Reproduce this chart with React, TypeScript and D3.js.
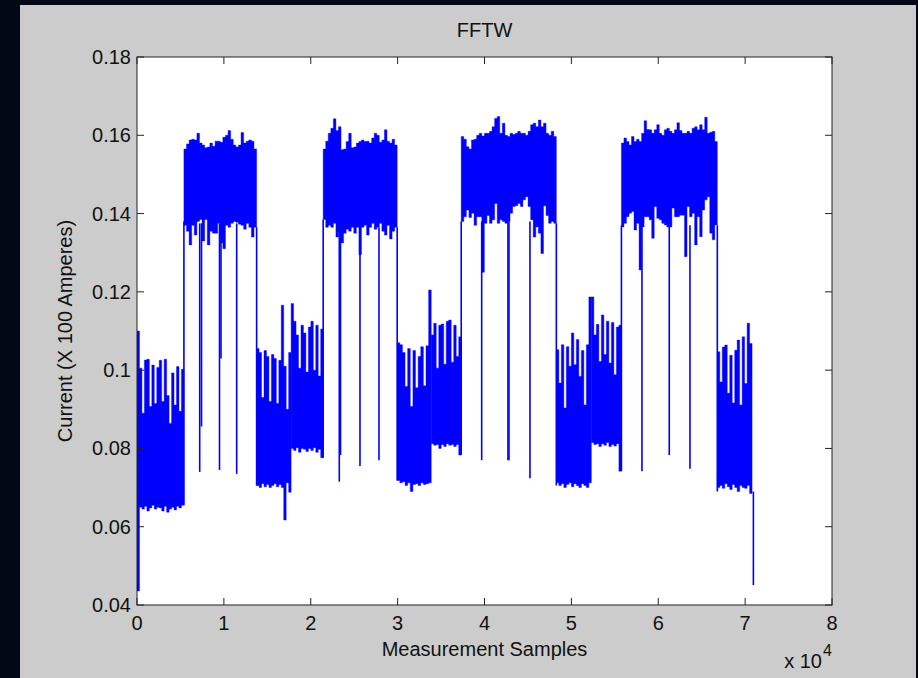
import React from "react";
import * as d3 from "d3";

// axis ticks
const X_TICKS = [0, 1, 2, 3, 4, 5, 6, 7, 8];
const Y_TICKS = [0.04, 0.06, 0.08, 0.1, 0.12, 0.14, 0.16, 0.18];
const Y_TICK_LABELS = ["0.04", "0.06", "0.08", "0.1", "0.12", "0.14", "0.16", "0.18"];

// envelope of the trace, block by block: sample range, then max / min per bin
const L1_RANGE = [0, 5400];
const L1_TOP = [0.11, 0.1005, 0.089, 0.1026, 0.1028, 0.0907, 0.1013, 0.0915, 0.1007, 0.1025, 0.092, 0.1028, 0.0935, 0.0864, 0.0993, 0.0911, 0.1009, 0.0895, 0.1002];
const L1_BOTTOM = [0.0436, 0.065, 0.0645, 0.0652, 0.064, 0.0648, 0.0655, 0.0645, 0.065, 0.0648, 0.064, 0.0652, 0.0637, 0.0645, 0.065, 0.0643, 0.0652, 0.0648, 0.0655];

const H1_RANGE = [5400, 13770];
const H1_TOP = [0.1565, 0.1578, 0.1588, 0.159, 0.1588, 0.1605, 0.158, 0.1575, 0.1568, 0.157, 0.158, 0.1572, 0.1585, 0.1585, 0.1582, 0.1595, 0.16, 0.1612, 0.159, 0.1575, 0.157, 0.1575, 0.1607, 0.158, 0.1585, 0.1588, 0.1585, 0.1565];
const H1_BOTTOM = [0.137, 0.1355, 0.132, 0.137, 0.1345, 0.138, 0.1385, 0.133, 0.1385, 0.132, 0.1355, 0.135, 0.135, 0.1375, 0.1325, 0.131, 0.137, 0.1365, 0.1375, 0.138, 0.1378, 0.1373, 0.137, 0.136, 0.1375, 0.1365, 0.134, 0.1365];

const L2A_RANGE = [13770, 17740];
const L2A_TOP = [0.1055, 0.1045, 0.093, 0.105, 0.1035, 0.092, 0.104, 0.103, 0.0915, 0.1025, 0.1166, 0.101, 0.09, 0.1045];
const L2A_BOTTOM = [0.0705, 0.07, 0.071, 0.0702, 0.0708, 0.07, 0.0705, 0.071, 0.0702, 0.0708, 0.07, 0.0617, 0.0712, 0.0688];

const L2B_RANGE = [17740, 21430];
const L2B_TOP = [0.117, 0.1125, 0.109, 0.1005, 0.1115, 0.1095, 0.0995, 0.111, 0.1125, 0.1, 0.1115, 0.0985, 0.1105];
const L2B_BOTTOM = [0.08, 0.0795, 0.0802, 0.079, 0.08, 0.0798, 0.0792, 0.08, 0.0795, 0.0802, 0.079, 0.0798, 0.0776];

const H2_RANGE = [21430, 29950];
const H2_TOP = [0.1565, 0.1585, 0.1605, 0.1618, 0.1642, 0.1612, 0.1622, 0.1563, 0.1565, 0.1584, 0.1605, 0.1568, 0.157, 0.158, 0.1584, 0.1588, 0.1584, 0.1585, 0.158, 0.1593, 0.1605, 0.16, 0.1582, 0.1588, 0.1614, 0.1585, 0.158, 0.159, 0.1575];
const H2_BOTTOM = [0.1385, 0.1365, 0.137, 0.1365, 0.1375, 0.134, 0.1355, 0.1325, 0.135, 0.136, 0.1355, 0.1365, 0.135, 0.1365, 0.1295, 0.1365, 0.137, 0.1345, 0.1365, 0.1375, 0.136, 0.1365, 0.1375, 0.1355, 0.1345, 0.137, 0.1335, 0.1355, 0.1365];

const L3A_RANGE = [29950, 33870];
const L3A_TOP = [0.107, 0.1065, 0.1045, 0.0958, 0.1055, 0.0907, 0.105, 0.0955, 0.1035, 0.106, 0.096, 0.1062, 0.1205];
const L3A_BOTTOM = [0.0718, 0.0712, 0.0715, 0.0705, 0.0712, 0.069, 0.0708, 0.071, 0.0705, 0.0712, 0.0708, 0.071, 0.0712];

const L3B_RANGE = [33870, 37320];
const L3B_TOP = [0.109, 0.112, 0.1005, 0.1115, 0.1118, 0.1015, 0.1125, 0.1128, 0.102, 0.1115, 0.1035, 0.1085];
const L3B_BOTTOM = [0.0812, 0.0808, 0.081, 0.08, 0.081, 0.0805, 0.0812, 0.0808, 0.081, 0.0805, 0.081, 0.0783];

const H3_RANGE = [37320, 48270];
const H3_TOP = [0.1597, 0.159, 0.1571, 0.1565, 0.1588, 0.159, 0.16, 0.1605, 0.1598, 0.1605, 0.1605, 0.161, 0.1622, 0.1643, 0.1648, 0.1605, 0.1631, 0.16, 0.1597, 0.1605, 0.1602, 0.1605, 0.161, 0.1605, 0.1605, 0.16, 0.161, 0.1627, 0.1631, 0.1622, 0.1639, 0.1622, 0.1631, 0.1605, 0.16, 0.161, 0.1597];
const H3_BOTTOM = [0.138, 0.1392, 0.1409, 0.139, 0.1401, 0.137, 0.1392, 0.1392, 0.125, 0.1375, 0.1395, 0.1375, 0.1384, 0.1426, 0.1375, 0.1384, 0.138, 0.1375, 0.138, 0.1401, 0.1418, 0.142, 0.1426, 0.1418, 0.1435, 0.1443, 0.1418, 0.1384, 0.134, 0.1366, 0.135, 0.1298, 0.142, 0.1395, 0.1375, 0.138, 0.1375];

const L4A_RANGE = [48270, 52300];
const L4A_TOP = [0.1052, 0.0967, 0.1065, 0.0903, 0.106, 0.101, 0.1095, 0.1014, 0.1078, 0.0984, 0.105, 0.0911, 0.1065, 0.1187];
const L4A_BOTTOM = [0.0712, 0.0705, 0.071, 0.07, 0.0708, 0.0712, 0.0702, 0.071, 0.0705, 0.07, 0.071, 0.0705, 0.07, 0.0712];

const L4B_RANGE = [52300, 55760];
const L4B_TOP = [0.1187, 0.109, 0.1117, 0.1022, 0.1141, 0.104, 0.1125, 0.1018, 0.1122, 0.0988, 0.111, 0.1115];
const L4B_BOTTOM = [0.0815, 0.081, 0.0812, 0.0805, 0.0812, 0.0808, 0.0815, 0.0805, 0.081, 0.0806, 0.0812, 0.0742];

const H4_RANGE = [55760, 66800];
const H4_TOP = [0.158, 0.1593, 0.1584, 0.1575, 0.1597, 0.1584, 0.159, 0.1584, 0.1605, 0.1637, 0.1615, 0.1614, 0.1605, 0.1614, 0.1627, 0.1605, 0.16, 0.1614, 0.1618, 0.161, 0.1605, 0.1614, 0.1632, 0.1612, 0.1605, 0.1605, 0.161, 0.1605, 0.1618, 0.1622, 0.1614, 0.1627, 0.1614, 0.1646, 0.1605, 0.1608, 0.161, 0.1584];
const H4_BOTTOM = [0.1366, 0.1375, 0.1392, 0.1401, 0.1405, 0.1358, 0.1375, 0.1256, 0.1366, 0.1392, 0.1392, 0.1384, 0.1337, 0.1418, 0.1388, 0.1384, 0.1375, 0.1371, 0.1366, 0.1366, 0.1414, 0.1392, 0.1392, 0.1396, 0.1396, 0.129, 0.1418, 0.1392, 0.1401, 0.132, 0.1392, 0.1341, 0.1409, 0.1435, 0.1443, 0.135, 0.1333, 0.1371];

const L5_RANGE = [66800, 70800];
const L5_TOP = [0.1047, 0.097, 0.1059, 0.1064, 0.0941, 0.1038, 0.0916, 0.1051, 0.1077, 0.0911, 0.1085, 0.0966, 0.112, 0.1068];
const L5_BOTTOM = [0.07, 0.0705, 0.0698, 0.071, 0.0702, 0.0695, 0.0708, 0.07, 0.069, 0.0705, 0.07, 0.0698, 0.0705, 0.0685];

// single samples that jump far out of the band: [sample, low, high]
const SPIKES = [
  [5400, 0.0655, 0.138],
  [7217, 0.074, 0.1375],
  [7424, 0.0856, 0.1375],
  [9496, 0.0745, 0.1375],
  [9668, 0.103, 0.1375],
  [11475, 0.0735, 0.1375],
  [13770, 0.0705, 0.1365],
  [21430, 0.0776, 0.1385],
  [23285, 0.0715, 0.1365],
  [23423, 0.0783, 0.1365],
  [25667, 0.0755, 0.1365],
  [27854, 0.077, 0.1365],
  [29950, 0.0718, 0.1365],
  [37320, 0.0783, 0.138],
  [39675, 0.077, 0.138],
  [42702, 0.077, 0.138],
  [42817, 0.077, 0.138],
  [45234, 0.0724, 0.138],
  [48270, 0.0705, 0.1375],
  [55760, 0.0742, 0.137],
  [58125, 0.0742, 0.137],
  [61267, 0.0783, 0.137],
  [63650, 0.0748, 0.137],
  [66800, 0.069, 0.137],
  [70950, 0.0451, 0.069],
];

const BLOCKS = [
  { range: L1_RANGE, top: L1_TOP, bottom: L1_BOTTOM },
  { range: H1_RANGE, top: H1_TOP, bottom: H1_BOTTOM },
  { range: L2A_RANGE, top: L2A_TOP, bottom: L2A_BOTTOM },
  { range: L2B_RANGE, top: L2B_TOP, bottom: L2B_BOTTOM },
  { range: H2_RANGE, top: H2_TOP, bottom: H2_BOTTOM },
  { range: L3A_RANGE, top: L3A_TOP, bottom: L3A_BOTTOM },
  { range: L3B_RANGE, top: L3B_TOP, bottom: L3B_BOTTOM },
  { range: H3_RANGE, top: H3_TOP, bottom: H3_BOTTOM },
  { range: L4A_RANGE, top: L4A_TOP, bottom: L4A_BOTTOM },
  { range: L4B_RANGE, top: L4B_TOP, bottom: L4B_BOTTOM },
  { range: H4_RANGE, top: H4_TOP, bottom: H4_BOTTOM },
  { range: L5_RANGE, top: L5_TOP, bottom: L5_BOTTOM },
];

const BLUE = "#0000ff";
const FONT = "'Liberation Sans', Arial, Helvetica, sans-serif";

export default function App() {
  const width = 918;
  const height = 678;
  const left = 137;
  const right = 832;
  const top = 57;
  const bottom = 605;
  const tick = 7;

  const x = d3.scaleLinear().domain([0, 80000]).range([left, right]);
  const y = d3.scaleLinear().domain([0.04, 0.18]).range([bottom, top]);

  const blockPath = (b) => {
    const [s0, s1] = b.range;
    const n = b.top.length;
    const step = (s1 - s0) / n;
    const p = d3.path();
    b.top.forEach((v, i) => {
      const xa = x(s0 + i * step);
      const xb = x(s0 + (i + 1) * step);
      p.moveTo(xa, y(v));
      p.lineTo(xb, y(v));
      p.lineTo(xb, y(b.bottom[i]));
      p.lineTo(xa, y(b.bottom[i]));
      p.closePath();
    });
    return p.toString();
  };

  return (
    <div
      style={{
        position: "absolute",
        left: 0,
        top: 0,
        width,
        height,
        background: "#030817",
      }}
    >
      <svg width={width} height={height} style={{ display: "block" }}>
        <rect x={20} y={5} width={896} height={673} fill="#cccccc" />
        <rect x={left} y={top} width={right - left} height={bottom - top} fill="#ffffff" />

        <defs>
          <clipPath id="plot">
            <rect x={left} y={top} width={right - left} height={bottom - top} />
          </clipPath>
        </defs>

        <g clipPath="url(#plot)">
          {BLOCKS.map((b, i) => (
            <path key={i} d={blockPath(b)} fill={BLUE} stroke={BLUE} strokeWidth={0.4} />
          ))}
          {SPIKES.map(([s, lo, hi], i) => (
            <line
              key={i}
              x1={x(s)}
              x2={x(s)}
              y1={y(lo)}
              y2={y(hi)}
              stroke={BLUE}
              strokeWidth={1.6}
            />
          ))}
        </g>

        {/* axes box with inward ticks */}
        <g stroke="#222" strokeWidth={1} fill="none">
          <rect x={left} y={top} width={right - left} height={bottom - top} />
          {X_TICKS.map((t) => (
            <g key={t}>
              <line x1={x(t * 10000)} x2={x(t * 10000)} y1={bottom} y2={bottom - tick} />
              <line x1={x(t * 10000)} x2={x(t * 10000)} y1={top} y2={top + tick} />
            </g>
          ))}
          {Y_TICKS.map((t) => (
            <g key={t}>
              <line x1={left} x2={left + tick} y1={y(t)} y2={y(t)} />
              <line x1={right} x2={right - tick} y1={y(t)} y2={y(t)} />
            </g>
          ))}
        </g>

        <g fontFamily={FONT} fontSize={20} fill="#111">
          {X_TICKS.map((t) => (
            <text key={t} x={x(t * 10000)} y={630} textAnchor="middle">
              {t}
            </text>
          ))}
          {Y_TICKS.map((t, i) => (
            <text key={t} x={left - 6} y={y(t) + 7} textAnchor="end">
              {Y_TICK_LABELS[i]}
            </text>
          ))}
          <text x={(left + right) / 2} y={37} textAnchor="middle">
            FFTW
          </text>
          <text x={(left + right) / 2} y={656} textAnchor="middle">
            Measurement Samples
          </text>
          <text
            transform={`translate(72,${(top + bottom) / 2}) rotate(-90)`}
            textAnchor="middle"
          >
            Current (X 100 Amperes)
          </text>
          <text x={822} y={668} textAnchor="end">
            x 10
          </text>
          <text x={832} y={656} textAnchor="end" fontSize={16}>
            4
          </text>
        </g>
      </svg>
    </div>
  );
}
